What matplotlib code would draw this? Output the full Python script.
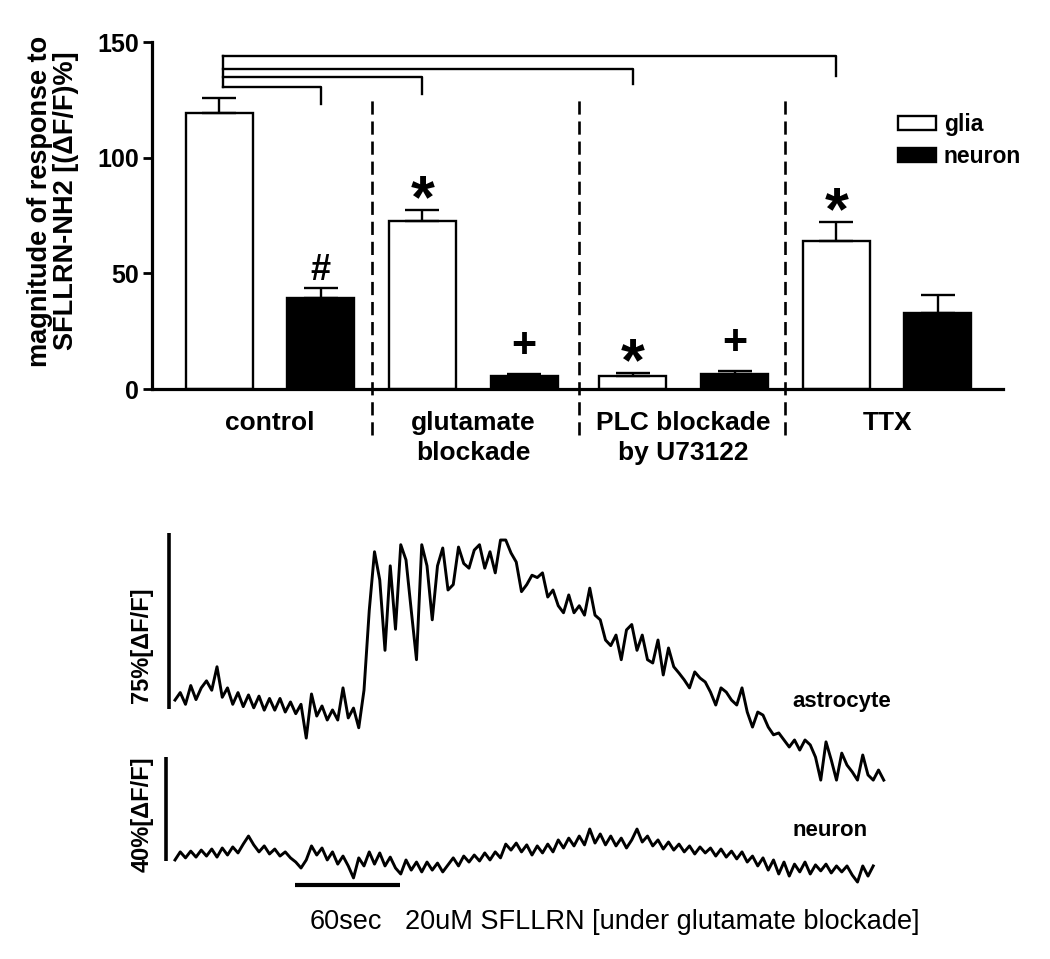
import matplotlib
matplotlib.use('Agg')
import matplotlib.pyplot as plt
import numpy as np

plt.rcParams['font.family'] = ['Liberation Sans', 'DejaVu Sans']

# bar chart data
groups = ['control', 'glutamate\nblockade', 'PLC blockade\nby U73122', 'TTX']
glia = [119.5, 72.5, 5.5, 64.0]
glia_err = [6.5, 5.0, 1.3, 8.0]
neuron = [39.5, 5.5, 6.5, 32.7]
neuron_err = [4.0, 1.0, 1.3, 8.0]
glia_marks = ['', '*', '*', '*']
neuron_marks = ['#', '+', '+', '']

# significance brackets: (target bar index, line height, drop end)
brackets = [(1, 130.7, 123.2), (2, 134.8, 127.5), (4, 138.3, 131.9), (6, 144.1, 135.5)]

# calcium traces, % dF/F, one sample every 3 s
dt = 3.0
astrocyte = [3.8, 7, 2, 10, 4, 9, 12, 8, 18, 5, 9, 2, 7, 1, 6, 0.5, 5.5, -0.5, 4.5, -0.5,
             4.5, -1.3, 3, -2, 2, -12.4, 6.4, -3, 1.3, -4.7, -0.4, -4.7, 9, -3.8, 0.4, -8, 8,
             42, 67, 55, 25, 61, 34, 70, 63.5, 42, 21, 70, 61, 38, 61, 68.6, 50.7, 53, 69, 62,
             60, 67.7, 70, 60, 67, 58, 72, 72, 66.5, 62.6, 50, 53, 57, 56, 58, 47.7, 50.7, 44,
             41, 48.6, 41, 44, 40, 51.5, 40, 38, 29.4, 27, 31.5, 21, 33.7, 36, 25, 31.5, 21,
             19.6, 29.4, 14.5, 26, 18, 15.3, 12.4, 9, 15.8, 13.2, 11.5, 7.2, 1.7, 9, 7.2, 3.8,
             1.7, 9, -1.3, -7.7, -1.3, -2.6, -7.7, -11, -10.2, -13.2, -16.2, -13.2, -17.5,
             -13.2, -15.3, -20.5, -30.3, -14, -21.7, -30.3, -18.8, -23.9, -26.8, -30.3, -19.6,
             -28.1, -30.3, -26, -30.3]
neuron_trace = [0.4, 3.5, 1.2, 3.8, 1.5, 4.2, 1.9, 4.6, 1.5, 5, 2.3, 5.4, 3.1, 6.5, 9.6, 6.2,
                3.5, 5.8, 2.7, 4.6, 1.9, 3.5, 1.2, -0.4, -2.7, 0.4, 5.8, 2.3, 5, 0.4, 3.5, -1.2,
                1.9, -1.9, -6.5, 1.2, -1.9, 3.5, -1.2, 3.1, -1.9, 1.5, -2.7, -5, 0.4, -3.5, -0.4,
                -4.2, -0.4, -3.5, -0.8, -4.2, -1.5, 1.2, -1.9, 1.9, -0.4, 2.3, 0, 3.1, 0.4, 3.5,
                1.2, 6.5, 4.2, 6.9, 3.5, 6.2, 2.3, 5.8, 3.1, 6.5, 3.5, 8.1, 5, 8.8, 5.8, 9.6, 6.2,
                12.3, 6.9, 10.4, 6.2, 9.6, 5.8, 8.8, 5, 8.1, 12.3, 7.3, 9.6, 5.8, 8.1, 4.6, 7.3,
                4.2, 6.5, 3.5, 5.8, 2.7, 5.4, 3.1, 5, 1.9, 4.6, 1.5, 3.8, 0.8, 3.5, -0.4, 1.9,
                -1.9, 1.2, -3.5, 0.4, -5, -0.4, -5.8, -1.2, -4.2, -0.4, -5, -1.5, -3.8, -1.2,
                -4.6, -1.9, -4.2, -1.9, -5.4, -8.1, -1.9, -5.8, -1.9]

W, H = 1050, 959
fig = plt.figure(figsize=(W / 100, H / 100), dpi=100)

# ---- top: bar chart ----
ax = fig.add_axes([152 / W, 1 - 389 / H, (1003 - 152) / W, (389 - 42) / H])
pos = np.arange(8) + np.repeat([0, 0, 0.07, 0.07], 2)
gpos = pos[0::2]
npos = pos[1::2]
bw = 0.66
ax.bar(gpos, glia, bw, color='white', edgecolor='black', linewidth=1.7, zorder=2, label='glia')
ax.bar(npos, neuron, bw, color='black', edgecolor='black', linewidth=1.7, zorder=2, label='neuron')
ax.errorbar(gpos, glia, yerr=[np.zeros(4), glia_err], fmt='none', ecolor='black',
            elinewidth=1.7, capsize=12, capthick=1.7, zorder=3)
ax.errorbar(npos, neuron, yerr=[np.zeros(4), neuron_err], fmt='none', ecolor='black',
            elinewidth=1.7, capsize=12, capthick=1.7, zorder=3)

for x, v, e, m in zip(gpos, glia, glia_err, glia_marks):
    if m:
        ax.text(x, v + e - 3.1, m, ha='center', va='baseline', fontsize=44, fontweight='bold')
for x, v, e, m in zip(npos, neuron, neuron_err, neuron_marks):
    if m == '#':
        ax.text(x, v + e + 3.6, m, ha='center', va='baseline', fontsize=26, fontweight='bold')
    elif m:
        ax.text(x, v + e + 7.5, m, ha='center', va='baseline', fontsize=31, fontweight='bold')

# group dividers
for xd in [(pos[1] + pos[2]) / 2, (pos[3] + pos[4]) / 2, (pos[5] + pos[6]) / 2]:
    ax.plot([xd, xd], [-20, 126.7], color='black', lw=1.9, dashes=(5, 2.6), clip_on=False)

# brackets from control glia
x0 = pos[0] + 0.04
for idx, yl, yd in brackets:
    ax.plot([x0, pos[idx], pos[idx]], [yl, yl, yd], color='black', lw=1.7, clip_on=False)
ax.plot([x0, x0], [brackets[0][1], brackets[-1][1]], color='black', lw=1.7)

ax.set_xlim(-0.66, 7.71)
ax.set_ylim(0, 150)
ax.set_yticks([0, 50, 100, 150])
ax.set_xticks((gpos + npos) / 2)
ax.set_xticklabels(groups, fontsize=19, fontweight='bold', va='top', linespacing=1.3)
ax.tick_params(axis='x', length=0, pad=16)
ax.tick_params(axis='y', length=6.5, width=2, pad=3, labelsize=18)
for lab in ax.get_yticklabels():
    lab.set_fontweight('bold')
for s in ['top', 'right']:
    ax.spines[s].set_visible(False)
ax.spines['left'].set_linewidth(2.3)
ax.spines['bottom'].set_linewidth(2.3)
ax.patch.set_alpha(0)

fig.text(53 / W, 1 - 201 / H, 'magnitude of response to\nSFLLRN-NH2 [(\u0394F/F)%]',
         rotation=90, ha='center', va='center', fontsize=19.5, fontweight='bold',
         multialignment='center', linespacing=1.0)

ax.legend(loc='upper left', bbox_to_anchor=((898 - 152) / 851, (389 - 113) / 347),
          frameon=False, borderpad=0, borderaxespad=0,
          prop={'weight': 'bold', 'size': 16.5}, handlelength=1.65, handleheight=0.58,
          handletextpad=0.35, labelspacing=0.4)

# ---- bottom: traces ----
def t_of(px):
    return (px - 175) / 1.75

ax_a = fig.add_axes([160 / W, 1 - 790 / H, 740 / W, 270 / H])
ta = np.arange(len(astrocyte)) * dt
ax_a.plot(ta, astrocyte, color='black', lw=2.1)
ax_a.set_xlim(t_of(160), t_of(900))
ax_a.set_ylim((709 - 790) / 2.347, (709 - 520) / 2.347)
ax_a.plot([t_of(169)] * 2, [0, 75], color='black', lw=2.6, solid_capstyle='butt')
ax_a.axis('off')

ax_n = fig.add_axes([160 / W, 1 - 895 / H, 740 / W, 150 / H])
tn = np.arange(len(neuron_trace)) * dt
ax_n.plot(tn, neuron_trace, color='black', lw=2.1)
ax_n.set_xlim(t_of(160), t_of(900))
ax_n.set_ylim((861 - 895) / 2.6, (861 - 745) / 2.6)
ax_n.plot([t_of(166)] * 2, [0, 40], color='black', lw=2.6, solid_capstyle='butt')
ax_n.plot([t_of(295), t_of(295) + 60], [-9.2, -9.2], color='black', lw=3, solid_capstyle='butt')
ax_n.axis('off')

fig.text(142 / W, 1 - 645 / H, '75%[\u0394F/F]', rotation=90, ha='center', va='center',
         fontsize=17, fontweight='bold')
fig.text(142 / W, 1 - 814 / H, '40%[\u0394F/F]', rotation=90, ha='center', va='center',
         fontsize=17, fontweight='bold')
fig.text(792 / W, 1 - 702 / H, 'astrocyte', ha='left', va='center', fontsize=16, fontweight='bold')
fig.text(792 / W, 1 - 830 / H, 'neuron', ha='left', va='center', fontsize=16, fontweight='bold')
fig.text(310 / W, 1 - 922 / H, '60sec', ha='left', va='center', fontsize=19.5)
fig.text(405 / W, 1 - 922 / H, '20uM SFLLRN [under glutamate blockade]', ha='left', va='center',
         fontsize=19.5)

fig.savefig('out.png', dpi=100)
